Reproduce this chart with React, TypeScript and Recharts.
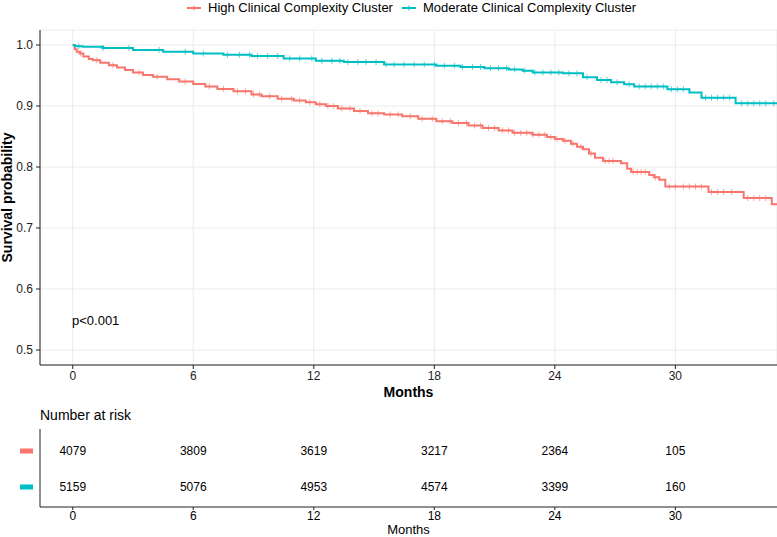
import React from 'react'
import { LineChart, Line, Scatter, ScatterChart, XAxis, YAxis, CartesianGrid, Label } from 'recharts'

// Kaplan-Meier step curves
const highTimes = [0, 0.1, 0.2, 0.37, 0.53, 0.8, 1.0, 1.37, 1.8, 2.2, 2.6, 3.0, 3.5, 4.0, 4.7, 5.3, 6.0, 6.6, 7.2, 8.0, 8.9, 9.4, 10.2, 11.0, 11.6, 12.1, 12.6, 13.2, 14.0, 14.7, 15.5, 16.4, 17.2, 18.1, 18.9, 19.7, 20.4, 21.2, 21.9, 22.9, 23.6, 24.0, 24.4, 24.8, 25.1, 25.4, 25.7, 26.0, 26.4, 27.3, 27.6, 27.8, 28.7, 28.95, 29.2, 29.5, 31.65, 33.4, 34.8, 35.06]
const highSurv = [1.0, 0.993, 0.989, 0.986, 0.981, 0.977, 0.975, 0.971, 0.967, 0.963, 0.959, 0.955, 0.951, 0.948, 0.944, 0.94, 0.936, 0.932, 0.928, 0.924, 0.919, 0.916, 0.912, 0.909, 0.906, 0.903, 0.9, 0.896, 0.892, 0.888, 0.886, 0.883, 0.879, 0.875, 0.872, 0.868, 0.864, 0.86, 0.856, 0.853, 0.849, 0.846, 0.843, 0.838, 0.833, 0.829, 0.822, 0.815, 0.81, 0.806, 0.797, 0.792, 0.787, 0.783, 0.779, 0.768, 0.759, 0.749, 0.739, 0.739]

const modTimes = [0, 0.1, 0.5, 1.5, 3.0, 4.5, 6.0, 7.5, 8.9, 10.5, 12.1, 13.5, 15.5, 18.1, 19.3, 20.5, 21.7, 22.4, 22.9, 24.4, 25.4, 26.1, 26.8, 27.45, 27.95, 29.6, 30.7, 31.3, 33.0, 35.06]
const modSurv = [1.0, 0.998, 0.997, 0.995, 0.992, 0.989, 0.986, 0.984, 0.982, 0.978, 0.974, 0.972, 0.968, 0.966, 0.964, 0.962, 0.96, 0.958, 0.955, 0.9536, 0.947, 0.9426, 0.939, 0.9355, 0.932, 0.9274, 0.922, 0.9136, 0.9044, 0.9044]

// censoring marks (months)
const highCensor = [0.4, 1.2, 2.0, 3.3, 4.2, 5.6, 6.8, 7.5, 8.2, 8.6, 9.0, 9.3, 9.8, 10.4, 10.9, 11.3, 11.8, 12.3, 12.7, 13.0, 13.4, 13.8, 14.3, 14.9, 15.2, 15.8, 16.2, 16.8, 17.4, 17.9, 18.4, 18.8, 19.2, 19.6, 20.0, 20.3, 20.7, 21.0, 21.4, 21.7, 22.0, 22.3, 22.6, 22.9, 23.2, 23.5, 23.8, 24.1, 24.5, 24.9, 25.3, 25.8, 26.5, 26.7, 26.9, 27.9, 28.1, 28.3, 28.5, 29.0, 29.7, 30.0, 30.4, 30.7, 31.0, 31.3, 31.8, 32.1, 32.4, 32.8, 33.6, 33.9, 34.2, 34.5]
const modCensor = [0.3, 1.5, 2.8, 4.3, 5.6, 6.5, 7.7, 8.3, 8.8, 9.2, 9.7, 10.2, 10.8, 11.3, 11.9, 12.4, 12.9, 13.3, 13.7, 14.2, 14.6, 15.1, 15.6, 16.0, 16.5, 17.0, 17.5, 18.0, 18.5, 19.0, 19.4, 19.9, 20.3, 20.8, 21.2, 21.6, 22.0, 22.5, 23.0, 23.4, 23.8, 24.2, 24.7, 25.1, 25.6, 26.3, 26.6, 27.1, 27.7, 28.2, 28.5, 28.8, 29.1, 29.4, 29.8, 30.1, 30.4, 31.5, 31.8, 32.1, 32.4, 32.7, 33.3, 33.6, 33.9, 34.2, 34.5, 34.9]

// number at risk table
const riskTimes = [0, 6, 12, 18, 24, 30]
const highRisk = [4079, 3809, 3619, 3217, 2364, 105]
const modRisk = [5159, 5076, 4953, 4574, 3399, 160]

const xTicks = [0, 6, 12, 18, 24, 30]
const yTicks = [0.5, 0.6, 0.7, 0.8, 0.9, 1.0]

const RED = '#F8766D'
const CYAN = '#00BFC4'
const FONT = '"Liberation Sans", Arial, sans-serif'
const X_DOMAIN: [number, number] = [-1.63, 35.06]

const toPoints = (ts: number[], ss: number[]) => ts.map((t, i) => ({ t, s: ss[i] }))

// survival value of a step curve at time t
const survAt = (ts: number[], ss: number[], t: number) => {
  let v = ss[0]
  for (let i = 0; i < ts.length; i++) if (ts[i] <= t) v = ss[i]
  return v
}

const highData = toPoints(highTimes, highSurv)
const modData = toPoints(modTimes, modSurv)
const highMarks = highCensor.map((t) => ({ t, s: survAt(highTimes, highSurv, t) }))
const modMarks = modCensor.map((t) => ({ t, s: survAt(modTimes, modSurv, t) }))

const riskRows = [
  ...riskTimes.map((t, i) => ({ t, row: 2, n: highRisk[i] })),
  ...riskTimes.map((t, i) => ({ t, row: 1, n: modRisk[i] })),
]

const plus = (color: string) => (props: any) => {
  const { cx, cy } = props
  return (
    <path
      d={`M${cx - 3},${cy}h6M${cx},${cy - 3}v6`}
      stroke={color}
      strokeWidth={1}
      strokeOpacity={0.65}
      fill="none"
    />
  )
}

const riskText = (props: any) => (
  <text x={props.cx} y={props.cy} dy="0.35em" textAnchor="middle" fontSize={12} fontFamily={FONT} fill="#000">
    {props.payload.n}
  </text>
)

const LegendKey = ({ color }: { color: string }) => (
  <svg width={14} height={10} style={{ display: 'block' }}>
    <line x1={0} y1={5} x2={14} y2={5} stroke={color} strokeWidth={2} />
    <line x1={7} y1={2.5} x2={7} y2={7.5} stroke={color} strokeWidth={1} />
  </svg>
)

export default function App() {
  return (
    <div style={{ position: 'absolute', left: 0, top: 0, width: 777, height: 537, background: '#fff', fontFamily: FONT }}>
      {/* legend */}
      <div style={{ position: 'absolute', top: 0, left: 187, height: 15, display: 'flex', alignItems: 'center', fontSize: 13, color: '#000' }}>
        <LegendKey color={RED} />
        <span style={{ marginLeft: 7 }}>High Clinical Complexity Cluster</span>
        <span style={{ marginLeft: 9 }}><LegendKey color={CYAN} /></span>
        <span style={{ marginLeft: 7 }}>Moderate Clinical Complexity Cluster</span>
      </div>

      <div style={{ position: 'absolute', top: 0, left: 0 }}>
        <LineChart width={777} height={400} margin={{ top: 30, right: 0, bottom: 0, left: 0 }}>
          <CartesianGrid stroke="#ebebeb" strokeWidth={1} />
          <XAxis
            type="number"
            dataKey="t"
            domain={X_DOMAIN}
            ticks={xTicks}
            allowDataOverflow
            height={35}
            tickSize={4}
            tickMargin={2}
            tick={{ fontSize: 12, fill: '#222', fontFamily: FONT }}
            stroke="#222"
          >
            <Label
              content={({ viewBox }: any) => (
                <text x={viewBox.x + viewBox.width / 2} y={392} dy="0.35em" textAnchor="middle" fontSize={14} fontWeight="bold" fontFamily={FONT} fill="#000">
                  Months
                </text>
              )}
            />
          </XAxis>
          <YAxis
            type="number"
            dataKey="s"
            domain={[0.4754, 1.0246]}
            ticks={yTicks}
            allowDataOverflow
            width={40}
            tickSize={4}
            tickMargin={3}
            tickFormatter={(v: number) => v.toFixed(1)}
            tick={{ fontSize: 12, fill: '#222', fontFamily: FONT }}
            stroke="#222"
          >
            <Label
              content={({ viewBox }: any) => {
                const cx = 12
                const cy = viewBox.y + viewBox.height / 2
                return (
                  <text x={cx} y={cy} transform={`rotate(-90 ${cx} ${cy})`} textAnchor="middle" fontSize={14} fontWeight="bold" fontFamily={FONT} fill="#000">
                    Survival probability
                  </text>
                )
              }}
            />
          </YAxis>
          <Line data={highData} dataKey="s" type="stepAfter" stroke={RED} strokeWidth={2} dot={false} isAnimationActive={false} />
          <Line data={modData} dataKey="s" type="stepAfter" stroke={CYAN} strokeWidth={2} dot={false} isAnimationActive={false} />
          <Scatter data={highMarks} dataKey="s" shape={plus(RED)} isAnimationActive={false} />
          <Scatter data={modMarks} dataKey="s" shape={plus(CYAN)} isAnimationActive={false} />
        </LineChart>
      </div>

      <div style={{ position: 'absolute', left: 72, top: 313, fontSize: 13, lineHeight: '16px', color: '#000' }}>p&lt;0.001</div>

      {/* risk table */}
      <div style={{ position: 'absolute', left: 40, top: 407, fontSize: 14, lineHeight: '17px', color: '#000' }}>Number at risk</div>
      <div style={{ position: 'absolute', top: 395, left: 0 }}>
        <ScatterChart width={777} height={142} margin={{ top: 34, right: 0, bottom: 0, left: 0 }}>
          <XAxis
            type="number"
            dataKey="t"
            domain={X_DOMAIN}
            ticks={xTicks}
            allowDataOverflow
            height={30}
            tickSize={3}
            tickMargin={1}
            tick={{ fontSize: 12, fill: '#000', fontFamily: FONT }}
            stroke="#222"
          >
            <Label
              content={({ viewBox }: any) => (
                <text x={viewBox.x + viewBox.width / 2} y={134.5} dy="0.35em" textAnchor="middle" fontSize={13} fontFamily={FONT} fill="#000">
                  Months
                </text>
              )}
            />
          </XAxis>
          <YAxis
            type="number"
            dataKey="row"
            domain={[0.444, 2.611]}
            ticks={[1, 2]}
            allowDataOverflow
            width={40}
            tickLine={false}
            stroke="#222"
            tick={(p: any) => (
              <rect x={20} y={p.y - 2.5} width={13} height={5} fill={p.payload.value === 2 ? RED : CYAN} />
            )}
          />
          <Scatter data={riskRows} shape={riskText} isAnimationActive={false} />
        </ScatterChart>
      </div>
    </div>
  )
}
